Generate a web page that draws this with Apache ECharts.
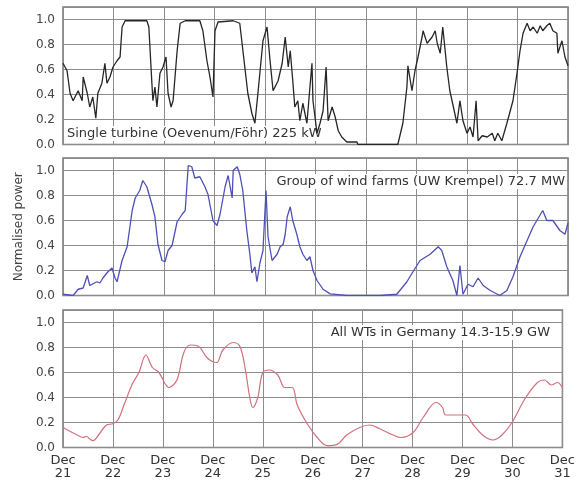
<!DOCTYPE html>
<html>
<head>
<meta charset="utf-8">
<script src="https://cdn.jsdelivr.net/npm/echarts@6/dist/echarts.min.js"></script>
<style>html,body{margin:0;padding:0;background:#fff;}#c{width:578px;height:483px;}</style>
</head>
<body>
<div id="c"></div>
<script>
// x values are days after Dec 21 00:00
const dayLabels = ['21','22','23','24','25','26','27','28','29','30','31'];
const yTicks = [0, 0.2, 0.4, 0.6, 0.8, 1.0];

const turbineDays = [0,0.08,0.14,0.2,0.3,0.38,0.4,0.48,0.53,0.59,0.65,0.69,0.77,0.83,0.87,0.93,0.99,1.07,1.13,1.17,1.23,1.39,1.66,1.7,1.76,1.78,1.82,1.86,1.92,1.98,2.04,2.08,2.14,2.18,2.26,2.32,2.42,2.71,2.77,2.85,2.91,2.97,3.01,3.07,3.37,3.5,3.6,3.66,3.74,3.8,3.86,3.96,4.04,4.1,4.16,4.26,4.34,4.4,4.46,4.5,4.55,4.59,4.65,4.69,4.75,4.83,4.89,4.93,4.95,5.03,5.09,5.15,5.21,5.25,5.33,5.39,5.45,5.52,5.62,5.82,5.84,6.63,6.73,6.81,6.83,6.91,6.97,7.03,7.11,7.13,7.21,7.31,7.37,7.41,7.47,7.52,7.6,7.66,7.72,7.8,7.86,7.92,8.0,8.06,8.12,8.18,8.22,8.3,8.4,8.5,8.55,8.61,8.69,8.79,8.91,8.99,9.05,9.11,9.19,9.25,9.31,9.39,9.45,9.5,9.58,9.64,9.7,9.78,9.8,9.88,9.94,10];
const turbineVals = [0.65,0.59,0.41,0.35,0.43,0.35,0.54,0.41,0.3,0.38,0.21,0.41,0.49,0.65,0.49,0.54,0.62,0.67,0.7,0.94,0.99,0.99,0.99,0.94,0.49,0.35,0.46,0.3,0.57,0.62,0.7,0.41,0.3,0.35,0.75,0.97,0.99,0.99,0.91,0.67,0.54,0.38,0.91,0.98,0.99,0.97,0.62,0.41,0.25,0.17,0.41,0.83,0.94,0.67,0.43,0.51,0.65,0.86,0.62,0.75,0.51,0.3,0.35,0.19,0.33,0.17,0.46,0.65,0.35,0.09,0.17,0.27,0.62,0.19,0.3,0.22,0.11,0.06,0.02,0.02,0,0,0.17,0.46,0.63,0.43,0.59,0.7,0.86,0.91,0.81,0.86,0.91,0.81,0.73,0.94,0.62,0.43,0.32,0.17,0.35,0.19,0.09,0.14,0.06,0.35,0.03,0.07,0.06,0.09,0.03,0.09,0.03,0.17,0.35,0.57,0.75,0.89,0.97,0.91,0.94,0.89,0.95,0.91,0.95,0.97,0.91,0.89,0.73,0.83,0.7,0.63];

const farmDays = [0,0.2,0.3,0.4,0.48,0.53,0.67,0.73,0.79,0.89,0.97,1.03,1.07,1.17,1.27,1.37,1.43,1.52,1.58,1.66,1.76,1.82,1.88,1.96,2.02,2.08,2.16,2.26,2.36,2.42,2.48,2.55,2.61,2.71,2.81,2.87,2.97,3.05,3.11,3.21,3.27,3.35,3.37,3.45,3.5,3.56,3.64,3.7,3.74,3.8,3.84,3.9,3.96,4.02,4.06,4.14,4.24,4.3,4.36,4.4,4.44,4.5,4.55,4.63,4.69,4.75,4.83,4.89,4.95,5.03,5.15,5.29,5.62,5.94,6.28,6.61,6.81,6.93,7.07,7.27,7.43,7.5,7.6,7.72,7.8,7.86,7.92,8.02,8.12,8.22,8.32,8.46,8.65,8.79,8.91,9.05,9.19,9.31,9.5,9.58,9.7,9.84,9.94,10];
const farmVals = [0.01,0.0,0.05,0.06,0.16,0.08,0.11,0.1,0.14,0.19,0.22,0.14,0.11,0.28,0.39,0.68,0.78,0.84,0.92,0.87,0.73,0.63,0.41,0.28,0.27,0.36,0.4,0.59,0.65,0.68,1.04,1.03,0.94,0.95,0.87,0.81,0.6,0.56,0.65,0.87,0.96,0.78,1.0,1.03,0.97,0.84,0.52,0.33,0.18,0.23,0.11,0.26,0.36,0.84,0.47,0.28,0.33,0.39,0.41,0.49,0.63,0.71,0.6,0.49,0.39,0.33,0.28,0.31,0.2,0.12,0.05,0.013,0.0,0.0,0.0,0.01,0.11,0.19,0.28,0.33,0.39,0.36,0.23,0.12,0.0,0.24,0.01,0.09,0.07,0.14,0.08,0.04,0.0,0.04,0.15,0.31,0.44,0.55,0.68,0.6,0.6,0.52,0.49,0.58];

const germanyDays = [0,0.28,0.4,0.47,0.53,0.6,0.73,0.87,1.0,1.1,1.23,1.39,1.52,1.66,1.79,1.92,2.12,2.28,2.42,2.55,2.71,2.88,2.98,3.08,3.2,3.41,3.54,3.64,3.74,3.8,3.9,4.0,4.13,4.3,4.44,4.59,4.69,4.89,5.09,5.29,5.49,5.68,5.94,6.14,6.34,6.61,6.77,7.01,7.21,7.47,7.6,7.66,8.06,8.2,8.4,8.61,8.79,8.99,9.25,9.5,9.64,9.78,9.9,10];
const germanyVals = [0.16,0.10,0.08,0.09,0.07,0.055,0.11,0.18,0.19,0.22,0.35,0.51,0.6,0.74,0.64,0.6,0.48,0.54,0.76,0.82,0.81,0.72,0.69,0.68,0.78,0.84,0.81,0.65,0.4,0.32,0.4,0.6,0.62,0.58,0.48,0.48,0.34,0.19,0.08,0.015,0.025,0.1,0.16,0.18,0.15,0.1,0.08,0.12,0.24,0.36,0.32,0.26,0.26,0.19,0.1,0.06,0.1,0.2,0.39,0.52,0.54,0.5,0.52,0.48];

const panelTitles = ['Single turbine (Oevenum/Föhr) 225 kW', 'Group of wind farms (UW Krempel) 72.7 MW', 'All WTs in Germany 14.3-15.9 GW'];
const yTitle = 'Normalised power';

function zip(xs, ys) { return xs.map((x, i) => [x, ys[i]]); }

const FONT = '"DejaVu Sans", sans-serif';
const tops = [7, 158, 310];
const grids = tops.map(t => ({ left: 63, top: t, width: 505, height: 137.5, show: true, borderColor: '#777', borderWidth: 1.5, backgroundColor: '#fff' }));

const xAxes = [0,1,2].map(i => ({
  type: 'value', gridIndex: i, min: 0, max: 10, interval: 1,
  axisLine: { show: false }, axisTick: { show: false },
  splitLine: { show: true, lineStyle: { color: '#8c8c8c', width: 1 } },
  axisLabel: {
    show: i === 2, fontFamily: FONT, fontSize: 13, lineHeight: 13, color: '#333', margin: 7,
    formatter: v => 'Dec\n' + dayLabels[Math.round(v)]
  }
}));
const yAxes = [0,1,2].map(i => ({
  type: 'value', gridIndex: i, min: 0, max: 1.1, interval: 0.2,
  axisLine: { show: false }, axisTick: { show: false },
  splitLine: { show: true, lineStyle: { color: '#8c8c8c', width: 1 } },
  axisLabel: { fontFamily: FONT, fontSize: 12, color: '#444', margin: 8, showMaxLabel: false,
    formatter: v => (yTicks.some(t => Math.abs(t - v) < 1e-6) ? v.toFixed(1) : '') },
  name: i === 1 ? yTitle : '', nameLocation: 'middle', nameGap: 35,
  nameTextStyle: { fontFamily: FONT, fontSize: 12, color: '#444' }
}));

const colors = ['#262626', '#4f4fb8', '#d0707c'];
const dataSets = [zip(turbineDays, turbineVals), zip(farmDays, farmVals), zip(germanyDays, germanyVals)];
const series = dataSets.map((d, i) => ({
  type: 'line', xAxisIndex: i, yAxisIndex: i, data: d, showSymbol: false, z: 3,
  smooth: i === 2 ? 0.35 : false,
  lineStyle: { color: colors[i], width: i === 2 ? 1.2 : 1.3 }, animation: false
}));

const graphic = [
  { type: 'text', left: 65, top: 126, z: 1, style: { text: panelTitles[0], font: '13px ' + FONT, fill: '#333', backgroundColor: '#fff', padding: [1, 2] } },
  { type: 'text', right: 11, top: 174, z: 1, style: { text: panelTitles[1], font: '13px ' + FONT, fill: '#333', backgroundColor: '#fff', padding: [1, 2] } },
  { type: 'text', right: 25, top: 325, z: 1, style: { text: panelTitles[2], font: '13px ' + FONT, fill: '#333', backgroundColor: '#fff', padding: [1, 3] } }
];

const chart = echarts.init(document.getElementById('c'), null, { renderer: 'canvas' });
chart.setOption({ animation: false, backgroundColor: '#fff', grid: grids, xAxis: xAxes, yAxis: yAxes, series, graphic });
</script>
</body>
</html>
